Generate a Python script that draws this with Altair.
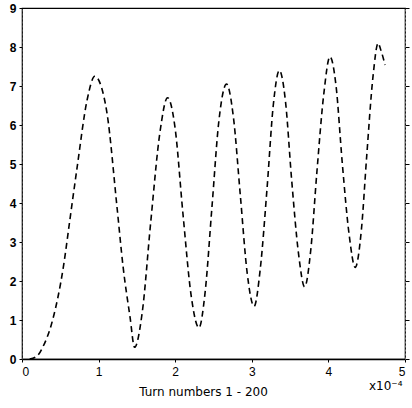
import altair as alt
import pandas as pd

# Curve samples (x in units of 1e-4, y value)
xs = [0.10, 0.20, 0.27, 0.40, 0.54, 0.63, 0.72, 0.85, 0.95, 1.04, 1.11, 1.24, 1.32, 1.41, 1.47,
      1.57, 1.68, 1.80, 1.90, 2.00, 2.10, 2.21, 2.31,
      2.39, 2.48, 2.57, 2.67, 2.76, 2.85, 2.94, 3.03,
      3.11, 3.20, 3.28, 3.36, 3.44, 3.52, 3.61, 3.69,
      3.77, 3.85, 3.94, 4.02, 4.10, 4.18, 4.27, 4.35,
      4.43, 4.50, 4.58, 4.65, 4.68, 4.74]
ys = [0.00, 0.08, 0.30, 1.00, 2.36, 3.64, 4.92, 6.64, 7.25, 6.95, 6.30, 3.90, 2.36, 1.08, 0.30,
      1.20, 3.50, 5.80, 6.70, 5.90, 3.75, 1.60, 0.80,
      1.70, 3.90, 6.10, 7.05, 6.20, 4.20, 2.20, 1.35,
      2.30, 4.40, 6.50, 7.40, 6.60, 4.60, 2.70, 1.85,
      2.80, 4.80, 6.80, 7.75, 7.00, 5.05, 3.20, 2.35,
      3.30, 5.20, 7.20, 8.10, 7.95, 7.54]

df = pd.DataFrame({"x": xs, "y": ys})

font = "Liberation Sans"
tfont = "DejaVu Sans"
xscale = alt.Scale(domain=[0, 5], nice=False, zero=False)
yscale = alt.Scale(domain=[0, 9], nice=False)

x_axis = alt.Axis(values=[0, 1, 2, 3, 4, 5], format="d", title="Turn numbers  1 - 200",
                  titleX=181, titleY=27, titleFont=tfont, titleFontSize=12,
                  titleFontWeight="normal", titleColor="black",
                  labelFont=font, labelFontSize=12, labelColor="black",
                  tickSize=3, tickColor="black", domainColor="black", domainWidth=1.5,
                  labelPadding=4, grid=False)

curve = alt.Chart(df).mark_line(
    color="black", strokeWidth=1.6, strokeDash=[6, 4], interpolate="monotone"
).encode(
    x=alt.X("x:Q", scale=xscale, axis=x_axis),
    y=alt.Y("y:Q", scale=yscale,
            axis=alt.Axis(values=list(range(10)), format="d", title=None,
                          labelFont=font, labelFontSize=12, labelColor="black",
                          labelFontWeight="bold", tickSize=3, tickColor="black",
                          domainColor="#444", domainDash=[2, 2], labelPadding=3, grid=False)),
)

# invisible layer carrying the right-hand tick marks
right_axis = alt.Chart(df).mark_line(opacity=0).encode(
    x=alt.X("x:Q", scale=xscale, axis=x_axis),
    y=alt.Y("y:Q", scale=yscale,
            axis=alt.Axis(orient="right", values=list(range(10)), labels=False, title=None,
                          tickSize=4, tickColor="black",
                          domainColor="#777", domainDash=[2, 2], grid=False)),
)

exponent = alt.Chart(pd.DataFrame({"t": ["x10\u207b\u2074"]})).mark_text(
    font=tfont, fontSize=12, color="black", align="left", baseline="middle"
).encode(x=alt.value(347), y=alt.value(351 + 27), text="t:N")

chart = alt.layer(curve, right_axis, exponent).resolve_scale(y="independent").properties(
    width=383, height=351,
    autosize=alt.AutoSizeParams(type="none"),
    padding={"left": 22, "top": 8, "right": 7, "bottom": 49},
).configure(background="white").configure_view(stroke="black", strokeWidth=1.2)

chart.save("out.html", embed_options={"renderer": "svg", "actions": False})
